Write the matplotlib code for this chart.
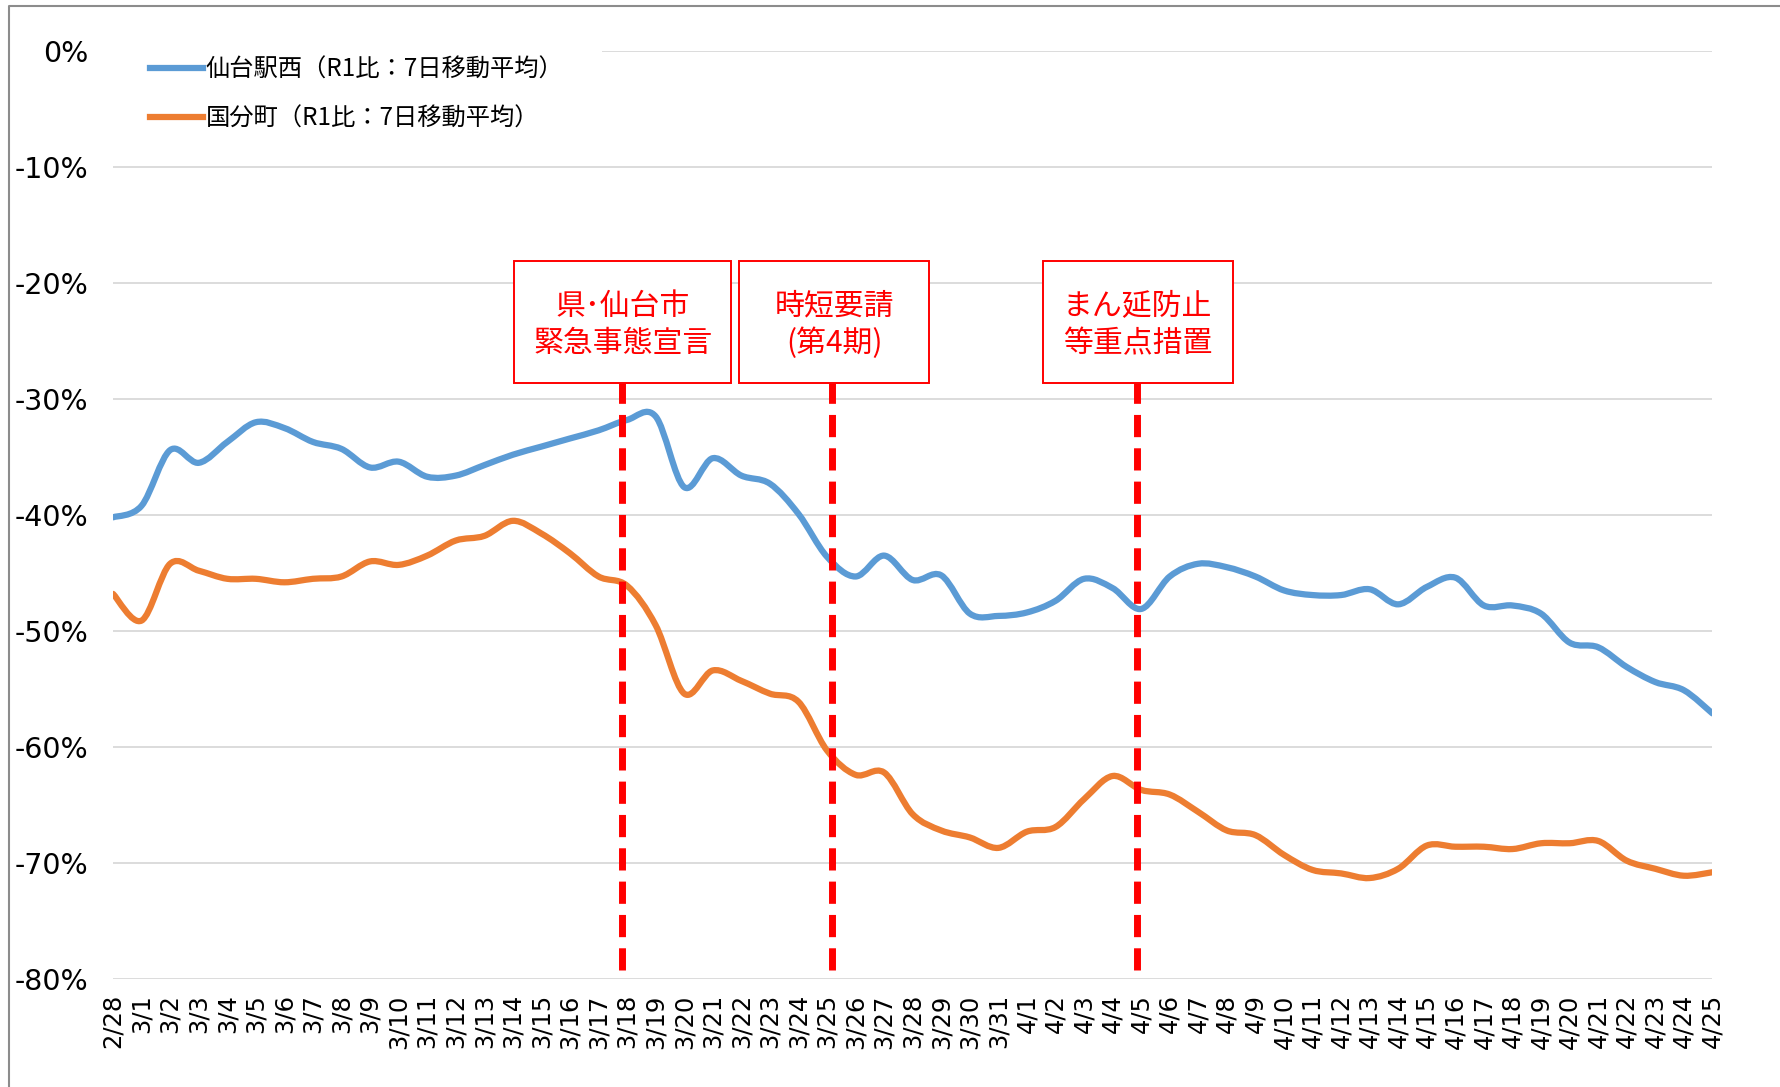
import matplotlib
matplotlib.use('Agg')
import matplotlib.pyplot as plt
import numpy as np
from matplotlib.path import Path
from matplotlib.patches import PathPatch, Rectangle
from matplotlib.lines import Line2D

# date labels 2/28 - 4/25
days = ['2/28'] + ['3/%d' % d for d in range(1, 32)] + ['4/%d' % d for d in range(1, 26)]

# 仙台駅西 (%)
sendai_west = [-40.2, -39.2, -34.4, -35.5, -33.7, -32.0, -32.5, -33.7, -34.3, -35.9,
               -35.4, -36.7, -36.6, -35.7, -34.8, -34.1, -33.4, -32.7, -31.8, -31.5,
               -37.6, -35.1, -36.6, -37.3, -39.9, -43.6, -45.3, -43.5, -45.6, -45.2,
               -48.5, -48.7, -48.4, -47.4, -45.5, -46.3, -48.1, -45.3, -44.2, -44.5,
               -45.3, -46.5, -46.9, -46.9, -46.4, -47.7, -46.2, -45.4, -47.8, -47.8,
               -48.5, -51.0, -51.4, -53.1, -54.4, -55.1, -57.1]

# 国分町 (%)
kokubuncho = [-46.8, -49.1, -44.2, -44.8, -45.5, -45.5, -45.8, -45.5, -45.3, -44.0,
              -44.3, -43.5, -42.2, -41.8, -40.5, -41.6, -43.3, -45.3, -46.1, -49.5,
              -55.4, -53.4, -54.3, -55.4, -56.1, -60.3, -62.4, -62.2, -65.8, -67.2,
              -67.8, -68.7, -67.3, -66.9, -64.5, -62.5, -63.7, -64.1, -65.6, -67.2,
              -67.6, -69.3, -70.6, -70.9, -71.3, -70.5, -68.5, -68.6, -68.6, -68.8,
              -68.3, -68.3, -68.1, -69.8, -70.5, -71.1, -70.8]

series_names = ['仙台駅西（R1比：7日移動平均）', '国分町（R1比：7日移動平均）']
series_colors = ['#5B9BD5', '#ED7D31']

# events: date label and box text
event_days = ['3/18', '3/25', '4/5']
event_texts = ['県･仙台市\n緊急事態宣言', '時短要請\n(第4期)', 'まん延防止\n等重点措置']

yticks = list(range(0, -81, -10))

cjk = ['Noto Sans CJK JP', 'DejaVu Sans']


def smooth_path(xs, ys):
    # excel-like smoothed line as bezier path through the points
    pts = np.column_stack([xs, ys]).astype(float)
    n = len(pts)
    verts = [pts[0]]
    codes = [Path.MOVETO]
    for i in range(n - 1):
        p0 = pts[max(i - 1, 0)]
        p1 = pts[i]
        p2 = pts[i + 1]
        p3 = pts[min(i + 2, n - 1)]
        verts += [p1 + (p2 - p0) / 6, p2 - (p3 - p1) / 6, p2]
        codes += [Path.CURVE4] * 3
    return Path(verts, codes)


fig = plt.figure(figsize=(17.8, 10.87), dpi=100)
ax = fig.add_axes([0.0635, 0.0994, 0.8985, 0.8536])

x = np.arange(len(days))
for ys, c in zip([sendai_west, kokubuncho], series_colors):
    ax.add_patch(PathPatch(smooth_path(x, ys), facecolor='none', edgecolor=c,
                           lw=4.5, capstyle='round', joinstyle='round', zorder=3))

ax.set_xlim(0, len(days) - 1)
ax.set_ylim(-80, 0)
ax.set_yticks(yticks)
ax.set_yticklabels(['%d%%' % v for v in yticks], fontsize=20.5)
ax.set_xticks(x)
ax.set_xticklabels(days, rotation=90, fontsize=17.5)
ax.tick_params(axis='both', length=0)
ax.tick_params(axis='y', pad=18)
ax.tick_params(axis='x', pad=11)
ax.grid(axis='y', color='#D9D9D9', lw=1.3)
ax.set_axisbelow(True)
for s in ax.spines.values():
    s.set_visible(False)

# event lines and boxes (lines were placed by hand, slightly off the day)
line_shift = [-0.18, 0.18, -0.16]
box_w = [7.6, 6.65, 6.65]
box_x0 = [14.05, 21.92, 32.55]
for d, t, sh, bx, bw in zip(event_days, event_texts, line_shift, box_x0, box_w):
    i = days.index(d) + sh
    ax.plot([i, i], [-79.2, -28.6], color='#FF0000', lw=5, dashes=(3.2, 1.6), zorder=4)
    ax.add_patch(Rectangle((bx, -28.6), bw, 10.5, facecolor='white',
                           edgecolor='#FF0000', lw=1.4, zorder=5))
    ax.text(bx + bw / 2, -23.6, t, color='#FF0000', fontsize=21.5, family=cjk,
            ha='center', va='center', linespacing=1.25, zorder=6)

# white area behind legend (hides the 0% gridline)
ax.add_patch(Rectangle((-0.01, 0.88), 0.316, 0.14, transform=ax.transAxes,
                       facecolor='white', edgecolor='none', zorder=2, clip_on=False))
handles = [Line2D([], [], color=c, lw=4.5) for c in series_colors]
leg = ax.legend(handles, series_names, loc='upper left', bbox_to_anchor=(0.023, 0.994),
                frameon=False, prop={'family': cjk, 'size': 17.5}, handlelength=2.2,
                handletextpad=0.1, labelspacing=0.95, borderpad=0, borderaxespad=0)
leg.set_zorder(7)

# outer chart frame
fig.add_artist(Line2D([9 / 1780, 9 / 1780, 1.0], [0.0, 1 - 6 / 1087, 1 - 6 / 1087],
                      transform=fig.transFigure, color='#8C8C8C', lw=1.5))

fig.savefig('out.png', dpi=100)
